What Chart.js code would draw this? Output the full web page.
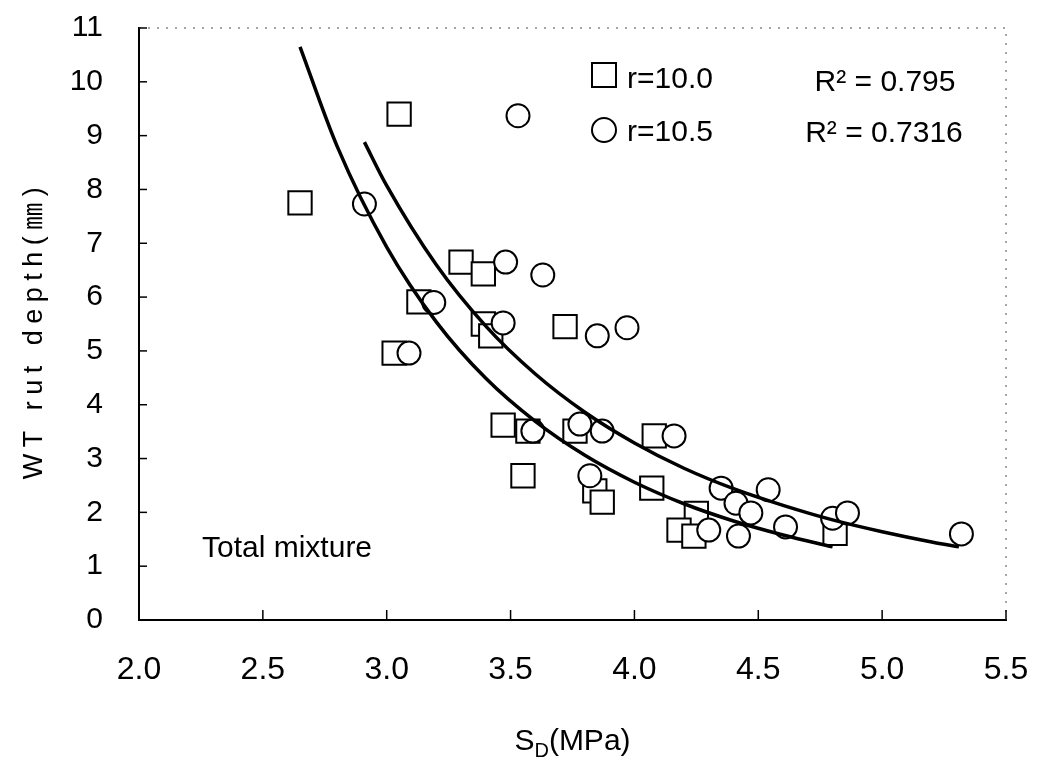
<!DOCTYPE html>
<html>
<head>
<meta charset="utf-8">
<script src="https://cdn.jsdelivr.net/npm/chart.js@4.4.0/dist/chart.umd.min.js"></script>
<style>
  html, body { margin: 0; padding: 0; background: #fff; }
  #wrap { width: 1041px; height: 759px; }
</style>
</head>
<body>
<div id="wrap"><canvas id="rutCanvas" width="1041" height="759"></canvas></div>
<script>
// measured points, r = 10.0 (squares)
var sdR100  = [2.65, 3.05, 3.30, 3.39, 3.13, 3.03, 3.39, 3.42, 3.72, 3.47, 3.57, 3.55, 3.76, 4.08, 3.84, 3.87, 4.07, 4.25, 4.18, 4.24, 4.81];
var rutR100 = [7.75, 9.40, 6.65, 6.43, 5.91, 4.96, 5.50, 5.28, 5.45, 3.62, 3.51, 2.68, 3.51, 3.42, 2.40, 2.19, 2.45, 1.98, 1.67, 1.56, 1.61];

// measured points, r = 10.5 (circles)
var sdR105  = [3.53, 2.91, 3.48, 3.63, 3.19, 3.47, 3.09, 3.85, 3.97, 3.59, 3.78, 3.87, 4.16, 3.82, 4.35, 4.54, 4.41, 4.47, 4.30, 4.42, 4.61, 4.80, 4.86, 5.32];
var rutR105 = [9.37, 7.73, 6.65, 6.41, 5.90, 5.52, 4.96, 5.28, 5.43, 3.51, 3.64, 3.51, 3.42, 2.68, 2.45, 2.42, 2.17, 1.99, 1.67, 1.56, 1.73, 1.89, 1.99, 1.60];

// trend curves
var fitSdR100  = [2.65, 2.80, 3.00, 3.20, 3.40, 3.60, 3.80, 4.00, 4.20, 4.40, 4.60, 4.80];
var fitRutR100 = [10.65, 8.80, 6.93, 5.54, 4.49, 3.69, 3.06, 2.56, 2.16, 1.84, 1.58, 1.36];
var fitSdR105  = [2.91, 3.00, 3.20, 3.40, 3.60, 3.80, 4.00, 4.20, 4.40, 4.60, 4.80, 5.00, 5.20, 5.31];
var fitRutR105 = [8.88, 8.07, 6.60, 5.46, 4.57, 3.86, 3.29, 2.82, 2.44, 2.13, 1.86, 1.64, 1.45, 1.36];

var legendLabels = ['r=10.0', 'r=10.5'];
var r2Labels = ['R\u00B2 = 0.795', 'R\u00B2 = 0.7316'];
var noteText = 'Total mixture';

var FONT = '"Liberation Sans", Arial, "Noto Sans CJK JP", sans-serif';

function pairs(xs, ys) {
    return xs.map(function (v, i) { return { x: v, y: ys[i] }; });
}

var decor = {
    id: 'decor',
    beforeDatasetsDraw: function (chart) {
        var ctx = chart.ctx, a = chart.chartArea, x = chart.scales.x, y = chart.scales.y;
        ctx.save();
        // dotted top / right frame
        ctx.strokeStyle = '#888';
        ctx.lineWidth = 1.5;
        ctx.setLineDash([2, 7]);
        ctx.beginPath();
        ctx.moveTo(a.left, a.top);
        ctx.lineTo(a.right, a.top);
        ctx.lineTo(a.right, a.bottom);
        ctx.stroke();
        ctx.setLineDash([]);
        // inward tick marks
        ctx.strokeStyle = '#000';
        ctx.lineWidth = 1.5;
        y.ticks.forEach(function (t) {
            var py = y.getPixelForValue(t.value);
            ctx.beginPath(); ctx.moveTo(a.left, py); ctx.lineTo(a.left + 8, py); ctx.stroke();
        });
        x.ticks.forEach(function (t) {
            var px = x.getPixelForValue(t.value);
            ctx.beginPath(); ctx.moveTo(px, a.bottom); ctx.lineTo(px, a.bottom - 10); ctx.stroke();
        });
        ctx.restore();
    },
    afterDraw: function (chart) {
        var ctx = chart.ctx, a = chart.chartArea;
        ctx.save();
        ctx.fillStyle = '#000';
        ctx.strokeStyle = '#000';
        ctx.lineWidth = 2;

        // legend symbols + labels
        ctx.strokeRect(592, 63, 24, 24);
        ctx.beginPath(); ctx.arc(604, 130, 12, 0, Math.PI * 2); ctx.stroke();
        ctx.font = '30px ' + FONT;
        ctx.textAlign = 'left';
        ctx.textBaseline = 'alphabetic';
        ctx.fillText(legendLabels[0], 627, 88);
        ctx.fillText(legendLabels[1], 627, 141);

        ctx.textAlign = 'center';
        ctx.fillText(r2Labels[0], 885, 91);
        ctx.fillText(r2Labels[1], 884, 142);

        ctx.textAlign = 'left';
        ctx.fillText(noteText, 202, 557);

        // x axis title: S_D(MPa)
        var cx = (a.left + a.right) / 2;
        ctx.font = '30px ' + FONT;
        var wS = ctx.measureText('S').width;
        var wP = ctx.measureText('(MPa)').width;
        ctx.font = '20px ' + FONT;
        var wD = ctx.measureText('D').width;
        var x0 = cx - (wS + wD + wP) / 2;
        ctx.font = '30px ' + FONT;
        ctx.fillText('S', x0, 750);
        ctx.font = '20px ' + FONT;
        ctx.fillText('D', x0 + wS, 757);
        ctx.font = '30px ' + FONT;
        ctx.fillText('(MPa)', x0 + wS + wD, 750);

        // y axis title
        ctx.translate(42, 330);
        ctx.rotate(-Math.PI / 2);
        ctx.font = '27px ' + FONT;
        ctx.textAlign = 'center';
        if ('letterSpacing' in ctx) ctx.letterSpacing = '6.5px';
        ctx.fillText('WT rut depth(\u339C)', 0, 0);
        ctx.restore();
    }
};

var ctx = document.getElementById('rutCanvas').getContext('2d');
var myChart = new Chart(ctx, {
    type: 'scatter',
    data: {
        datasets: [{
            label: 'fit r=10.0',
            data: pairs(fitSdR100, fitRutR100),
            showLine: true,
            borderColor: '#000',
            borderWidth: 3.5,
            pointRadius: 0,
            cubicInterpolationMode: 'monotone',
            order: 0
        }, {
            label: 'fit r=10.5',
            data: pairs(fitSdR105, fitRutR105),
            showLine: true,
            borderColor: '#000',
            borderWidth: 3.5,
            pointRadius: 0,
            cubicInterpolationMode: 'monotone',
            order: 0
        }, {
            label: legendLabels[1],
            data: pairs(sdR105, rutR105),
            pointStyle: 'circle',
            pointRadius: 11.5,
            pointBorderWidth: 2,
            pointBorderColor: '#000',
            pointBackgroundColor: '#fff',
            order: 1
        }, {
            label: legendLabels[0],
            data: pairs(sdR100, rutR100),
            pointStyle: 'rect',
            pointRadius: 16.5,
            pointBorderWidth: 2,
            pointBorderColor: '#000',
            pointBackgroundColor: '#fff',
            order: 2
        }]
    },
    options: {
        responsive: false,
        animation: false,
        devicePixelRatio: 1,
        layout: { padding: { top: 28, right: 35, left: 0, bottom: 0 } },
        plugins: {
            legend: { display: false },
            tooltip: { enabled: false }
        },
        scales: {
            x: {
                type: 'linear',
                min: 2.0,
                max: 5.5,
                afterFit: function (s) { s.height = 139; s.paddingLeft = 0; s.paddingRight = 0; },
                grid: { display: false, drawTicks: false },
                border: { display: true, color: '#000', width: 2 },
                ticks: {
                    stepSize: 0.5,
                    padding: 31,
                    color: '#000',
                    font: { family: FONT, size: 32 },
                    callback: function (v) { return v.toFixed(1); }
                }
            },
            y: {
                type: 'linear',
                min: 0,
                max: 11,
                afterFit: function (s) { s.width = 139; s.paddingTop = 0; s.paddingBottom = 0; },
                grid: { display: false, drawTicks: false },
                border: { display: true, color: '#000', width: 2 },
                ticks: {
                    stepSize: 1,
                    padding: 36,
                    color: '#000',
                    font: { family: FONT, size: 30 }
                }
            }
        }
    },
    plugins: [decor]
});
</script>
</body>
</html>
